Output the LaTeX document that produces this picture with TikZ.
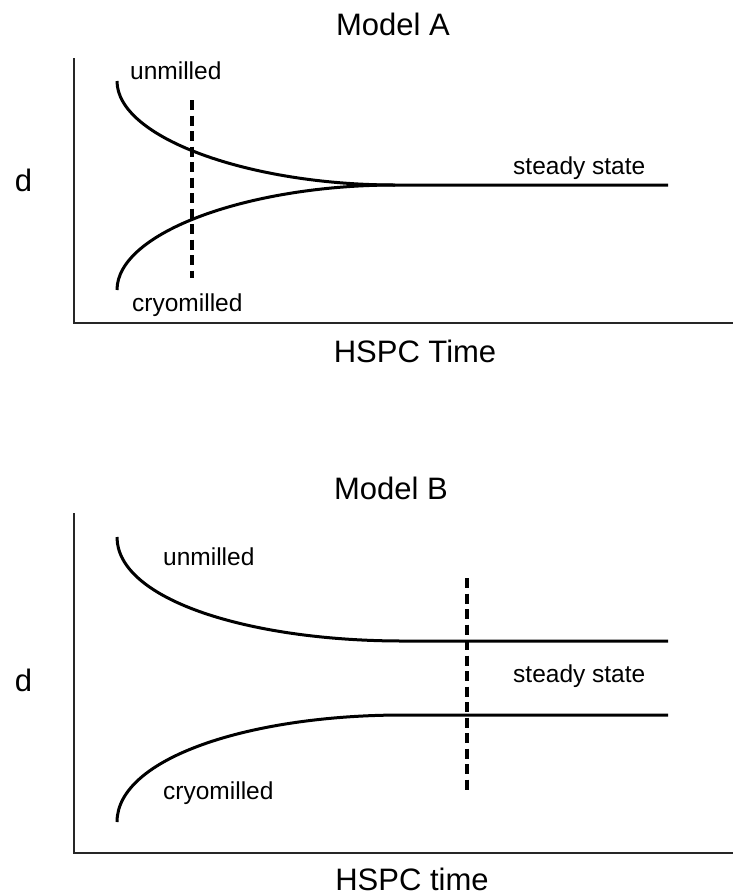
\documentclass[tikz,border=0pt]{standalone}
\usepackage{fontspec}
\setmainfont{Liberation Sans}
\begin{document}
\begin{tikzpicture}[x=1pt,y=-1pt,
  axis/.style={line width=2.2pt,draw=black!85},
  curve/.style={line width=3pt,draw=black},
  marker/.style={line width=3.4pt,draw=black,dash pattern=on 10pt off 5.5pt},
  title/.style={font=\fontsize{31}{36}\selectfont,inner sep=0pt,anchor=base},
  lbl/.style={font=\fontsize{24.5}{29}\selectfont,inner sep=0pt,anchor=base west}]
\useasboundingbox (0,0) rectangle (733,895);

% ---------- Model A ----------
\node[title] (tA) at (393,35) {Model A};
\node[title] (xA) at (415,362) {HSPC Time};
\node[title] (dA) at (23.5,191) {d};
\coordinate (oA) at (74,323);
\coordinate (yA) at (74,58);
\coordinate (eA) at (733,323);
\draw[axis] (yA) -- (oA) -- (eA);

\coordinate (uA0) at (117,81);
\coordinate (cA0) at (117,290);
\coordinate (mA) at (395,185);
\coordinate (sA) at (668,185);
\draw[curve] (uA0) .. controls (117,138) and (250,185) .. (mA) -- (sA);
\draw[curve] (cA0) .. controls (117,232) and (250,185) .. (mA);
\coordinate (vA0) at (192,100);
\coordinate (vA1) at (192,278);
\draw[marker] (vA0) -- (vA1);

\node[lbl] (uA) at (130,79) {unmilled};
\node[lbl] (cA) at (132,311) {cryomilled};
\node[lbl] (ssA) at (513,174) {steady state};

% ---------- Model B ----------
\node[title] (tB) at (391,499) {Model B};
\node[title] (xB) at (412,890) {HSPC time};
\node[title] (dB) at (23.5,691) {d};
\coordinate (oB) at (74,853);
\coordinate (yB) at (74,513);
\coordinate (eB) at (733,853);
\draw[axis] (yB) -- (oB) -- (eB);

\coordinate (uB0) at (117,537);
\coordinate (uB1) at (403,641);
\coordinate (uB2) at (668,641);
\coordinate (cB0) at (117,822);
\coordinate (cB1) at (403,715);
\coordinate (cB2) at (668,715);
\draw[curve] (uB0) .. controls (117,600) and (250,641) .. (uB1) -- (uB2);
\draw[curve] (cB0) .. controls (117,758) and (250,715) .. (cB1) -- (cB2);
\coordinate (vB0) at (467,578);
\coordinate (vB1) at (467,793);
\draw[marker] (vB0) -- (vB1);

\node[lbl] (uB) at (163,565) {unmilled};
\node[lbl] (cB) at (163,799) {cryomilled};
\node[lbl] (ssB) at (513,682) {steady state};
\end{tikzpicture}
\end{document}
